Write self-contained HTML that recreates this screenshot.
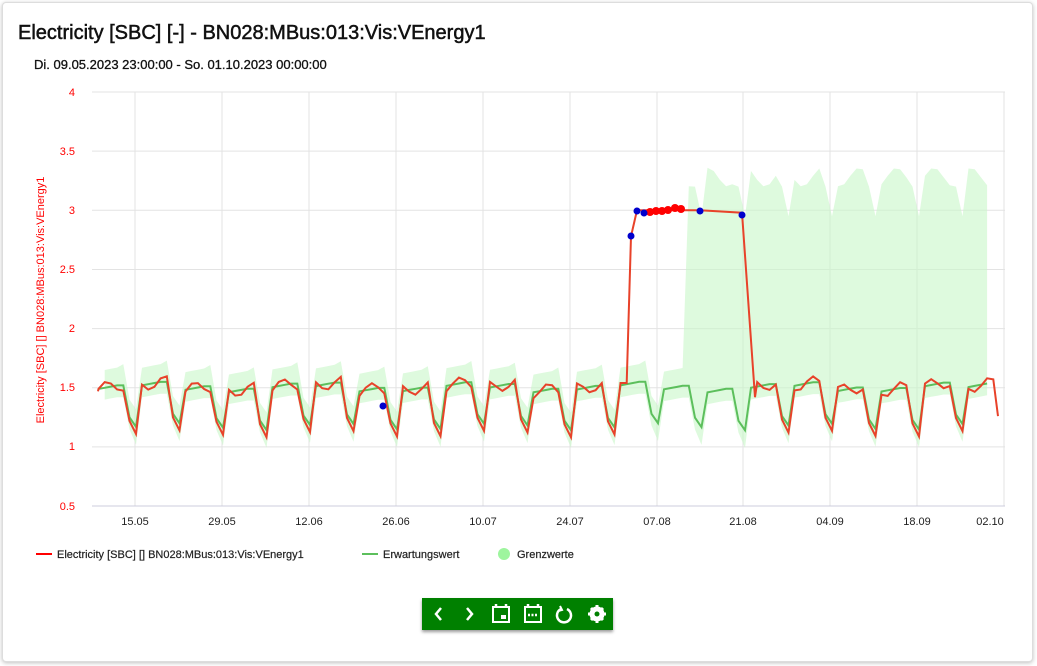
<!DOCTYPE html><html><head><meta charset="utf-8"><style>
body{margin:0;background:#fff;font-family:"Liberation Sans",sans-serif;}
.card{position:absolute;left:2px;top:2px;width:1029px;height:658px;border:1px solid #ddd;border-radius:4px;box-shadow:0 1px 4px rgba(0,0,0,.25);background:#fff}
.t{position:absolute;left:18px;top:22px;font-size:20px;color:#111;-webkit-text-stroke:0.5px #111}
.s{position:absolute;left:34px;top:57px;font-size:13px;color:#111;-webkit-text-stroke:0.3px #111}
.tb{position:absolute;left:422px;top:598px;width:191px;height:32px;background:#008000;box-shadow:0 2px 3px rgba(0,0,0,.4)}
</style></head><body><div class="card"></div>
<div class="t">Electricity [SBC] [-] - BN028:MBus:013:Vis:VEnergy1</div>
<div class="s">Di. 09.05.2023 23:00:00 - So. 01.10.2023 00:00:00</div>
<svg width="1037" height="666" style="position:absolute;left:0;top:0" font-family="Liberation Sans,sans-serif">
<g id="grid" stroke="#e3e3e3"></g>
<g id="yl" fill="red" font-size="11" text-anchor="end">
<text x="75" y="96">4</text><text x="75" y="155">3.5</text><text x="75" y="214">3</text><text x="75" y="273">2.5</text><text x="75" y="332">2</text><text x="75" y="391">1.5</text><text x="75" y="450">1</text><text x="75" y="510">0.5</text></g>
<text transform="translate(44,300) rotate(-90)" fill="red" font-size="11" text-anchor="middle">Electricity [SBC] [] BN028:MBus:013:Vis:VEnergy1</text>
<g fill="#222" font-size="11" text-anchor="middle">
<text x="135" y="525">15.05</text><text x="222" y="525">29.05</text><text x="309" y="525">12.06</text><text x="396" y="525">26.06</text><text x="483" y="525">10.07</text><text x="570" y="525">24.07</text><text x="657" y="525">07.08</text><text x="743" y="525">21.08</text><text x="830" y="525">04.09</text><text x="917" y="525">18.09</text><text x="990" y="525">02.10</text></g>
<path id="band" fill="#c8f7c8" fill-opacity=".6"></path>
<polyline id="g" fill="none" stroke="#5cbf5c" stroke-width="2"></polyline>
<polyline id="r" fill="none" stroke="#e8422a" stroke-width="2"></polyline>
<g id="dots"></g>
<line x1="36" y1="554" x2="52" y2="554" stroke="red" stroke-width="2"/>
<text x="57" y="558" font-size="11" fill="#222" stroke="#222" stroke-width="0.2">Electricity [SBC] [] BN028:MBus:013:Vis:VEnergy1</text>
<line x1="362" y1="554" x2="378" y2="554" stroke="#5cbf5c" stroke-width="2"/>
<text x="383" y="558" font-size="11" fill="#222" stroke="#222" stroke-width="0.2">Erwartungswert</text>
<circle cx="504" cy="554" r="6" fill="#9ef59e"/>
<text x="517" y="558" font-size="11" fill="#222" stroke="#222" stroke-width="0.2">Grenzwerte</text>
</svg>
<div class="tb"><svg width="191" height="32" fill="none" stroke="#fff" stroke-width="2.5">
<path d="M19 10l-5 6 5 6M45 10l5 6-5 6"/>
<rect x="71" y="9" width="16" height="15" stroke-width="2"/><path d="M74 6v4M84 6v4" /><rect x="79" y="17" width="5" height="4" fill="#fff" stroke="none"/>
<rect x="103" y="9" width="16" height="15" stroke-width="2"/><path d="M106 6v4M116 6v4M106 17h10" stroke-dasharray="2 1.5"/>
<path d="M139 11a7 7 0 1 0 6 0" /><path d="M138 8l2 4-4 1" stroke-width="2"/>
<circle cx="175" cy="16" r="5.5" stroke-width="4"/><path d="M175 7v18M166 16h18M169 10l12 12M181 10l-12 12" stroke-width="3"/><circle cx="175" cy="16" r="2.5" fill="#008000" stroke="none"/>
</svg></div>
<script>
const Y=v=>92+(4-v)*118.3;
let gr=document.getElementById('grid'),h='';
for(let v=0.5;v<=4;v+=0.5)h+=`<line x1="92" x2="1005" y1="${Y(v)}" y2="${Y(v)}"/>`;
[135,222,309,396,483,570,657,743,830,917,1004].forEach(x=>h+=`<line x1="${x}" x2="${x}" y1="92" y2="506"/>`);
h+=`<line x1="92" x2="1005" y1="506" y2="506" stroke="#ccd"/>`;gr.innerHTML=h;
const gpat=[1.49,1.50,1.51,1.52,1.52,1.25,1.17];
const off=[6,12.2,18.4,24.6,30.8,37,43.5];
let G=[],R=[],U=[],L=[];
for(let k=-1;k<21;k++){for(let i=0;i<7;i++){let x=136+43.5*k+off[i]-43.5;if(x<98||x>999)continue;
let gv=gpat[i]+(Math.sin(k*1.7)*0.03);G.push([x,gv]);
let rv=gv+(i<5?Math.sin(k*3+i*1.3)*0.05:(i==6?-0.06:-0.03));R.push([x,rv]);
let up=(x>683)?(i>=5?(i==6?2.95:3.2):3.28+Math.sin(k+i)*0.08):gv+0.15+(i==4?0.03:0);
let lo=gv-0.1-(i==6?0.05:0);U.push([x,up]);L.push([x,lo]);}}
G=G.filter(p=>p[0]<=991);U=U.filter(p=>p[0]>=104&&p[0]<=991);L=L.filter(p=>p[0]>=104&&p[0]<=991);
R=R.filter(p=>!(p[0]>=631&&p[0]<=753)).map(p=>{let x=p[0];if(x>620&&x<631)return[x,1.54];return p;});
R.push([631,2.78],[637,3.0],[700,3.0],[742,2.98],[755,1.42],[998,1.26]);R.unshift([98,1.47]);R.sort((a,b)=>a[0]-b[0]);
const pts=a=>a.map(p=>p[0].toFixed(1)+','+Y(p[1]).toFixed(1)).join(' ');
document.getElementById('g').setAttribute('points',pts(G));
document.getElementById('r').setAttribute('points',pts(R));
document.getElementById('band').setAttribute('d','M'+pts(U)+' L'+pts(L.slice().reverse())+'Z');
let d='';[[650,212],[656,211],[662,211],[668,210],[675,208],[681,209]].forEach(p=>d+=`<circle cx="${p[0]}" cy="${p[1]}" r="4" fill="red"/>`);
[[383,406],[631,236],[637,211],[644,213],[700,211],[742,215]].forEach(p=>d+=`<circle cx="${p[0]}" cy="${p[1]}" r="3.5" fill="#00c"/>`);
document.getElementById('dots').innerHTML=d;
</script></body></html>
